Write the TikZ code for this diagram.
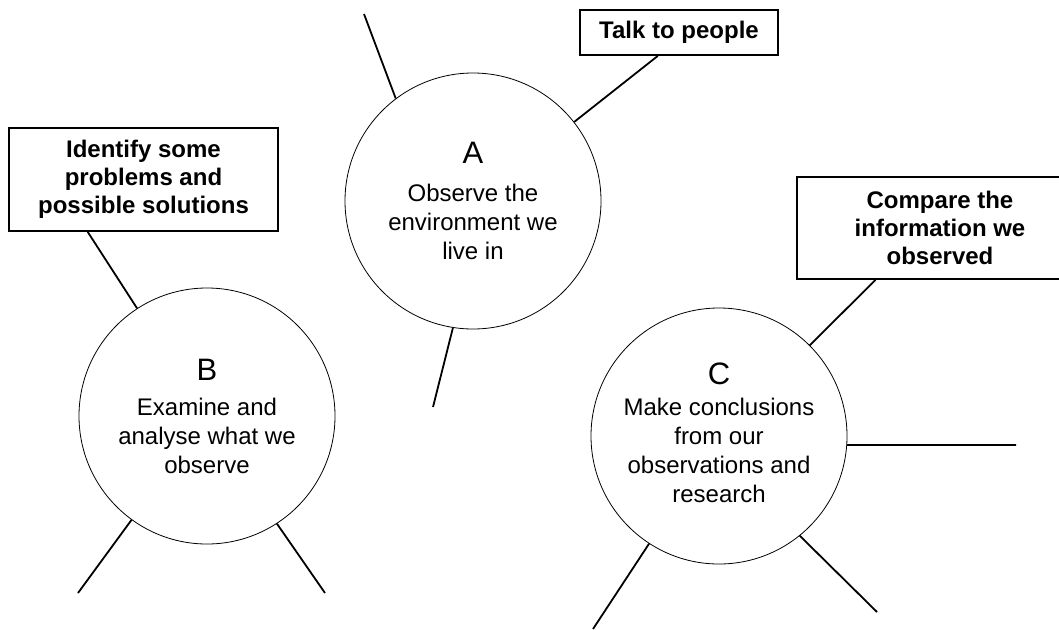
\documentclass[tikz,border=0pt]{standalone}
\usepackage{fontspec}
\setmainfont{Liberation Sans}
\usetikzlibrary{calc}
\begin{document}
\begin{tikzpicture}[x=1pt,y=-1pt,
  stage/.style={circle,draw,line width=0.8pt,minimum size=256pt,inner sep=0pt,align=center,
    font=\fontsize{24}{29}\selectfont},
  taskbox/.style={draw,line width=1.8pt,inner sep=0pt,align=center,
    font=\bfseries\fontsize{24}{28}\selectfont},
  link/.style={line width=1.8pt}]
\clip (0,0) rectangle (1059,629);
\useasboundingbox (0,0) rectangle (1059,629);
% circles
\node[stage] (A) at (473,201) {{\fontsize{31}{31}\selectfont A}\\[9pt]Observe the\\environment we\\live in};
\node[stage] (B) at (207,416) {{\fontsize{31}{31}\selectfont B}\\[6pt]Examine and\\analyse what we\\observe};
\node[stage] (C) at (719,436) {{\fontsize{31}{31}\selectfont C}\\[2pt]Make conclusions\\from our\\observations and\\research\\[-23pt]};
% boxes
\node[taskbox,minimum width=198pt,minimum height=45pt] (T) at (679,32.5) {Talk to people};
\node[taskbox,minimum width=269pt,minimum height=103pt] (P) at (143.5,179.5) {Identify some\\problems and\\possible solutions};
\node[taskbox,minimum width=286pt,minimum height=102pt] (Q) at (940,228) {Compare the\\information we\\observed};
% free ends
\coordinate (a1) at (364,14);
\coordinate (a2) at (433,407);
\coordinate (b1) at (78,593);
\coordinate (b2) at (325,593);
\coordinate (c1) at (1016,445);
\coordinate (c2) at (593,629);
\coordinate (c3) at (877,612);
% connectors
\draw[link] (A.127) -- (a1);
\draw[link] (A.38) -- ($(T.south west)!0.394!(T.south east)$);
\draw[link] (A.261) -- (a2);
\draw[link] (B.123) -- ($(P.south west)!0.294!(P.south east)$);
\draw[link] (B.234) -- (b1);
\draw[link] (B.303) -- (b2);
\draw[link] (C.45) -- ($(Q.south west)!0.276!(Q.south east)$);
\draw[link] (C.-4) -- (c1);
\draw[link] (C.237) -- (c2);
\draw[link] (C.309) -- (c3);
\end{tikzpicture}
\end{document}
